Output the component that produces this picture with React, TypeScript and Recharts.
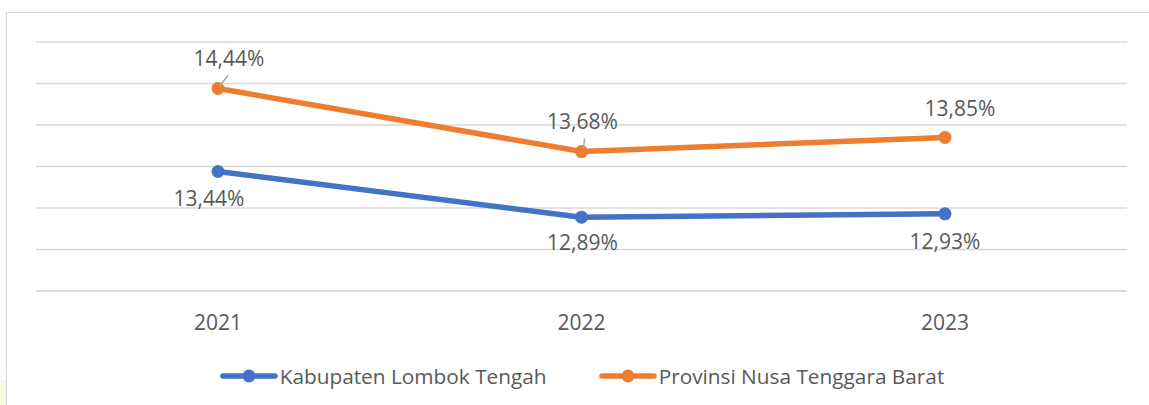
import React from 'react';
import { CartesianGrid, LabelList, Line, LineChart, XAxis, YAxis } from 'recharts';

const YEARS = ['2021', '2022', '2023'];
const LOMBOK_TENGAH = [13.44, 12.89, 12.93];
const NTB = [14.44, 13.68, 13.85];
const Y_TICKS = [12, 12.5, 13, 13.5, 14, 14.5, 15];

const SERIES = [
  { key: 'lombok', name: 'Kabupaten Lombok Tengah', color: '#4472C4' },
  { key: 'ntb', name: 'Provinsi Nusa Tenggara Barat', color: '#ED7D31' },
];

const data = YEARS.map((year, i) => ({ year, lombok: LOMBOK_TENGAH[i], ntb: NTB[i] }));

const FONT = '"Open Sans", sans-serif';
const TEXT = '#595959';

// label nudges (dx, dy of text centre from the point), leader line flag
const ABOVE = [
  { dx: 11, dy: -30, leader: true },
  { dx: 1, dy: -31, leader: true },
  { dx: 15, dy: -29, leader: false },
];
const BELOW = [
  { dx: -9, dy: 27 },
  { dx: 1, dy: 25 },
  { dx: 0, dy: 27 },
];

const fmt = (v: number) => `${v.toFixed(2).replace('.', ',')}%`;

function makeLabel(place: 'above' | 'below') {
  return (props: any) => {
    const { x, y, value, index } = props;
    const o = place === 'above' ? ABOVE[index] : BELOW[index];
    const cx = x + o.dx;
    const cy = y + o.dy;
    return (
      <g>
        {place === 'above' && (o as any).leader && (
          <line x1={x + 2} y1={y - 3} x2={x + (o.dx > 5 ? 10 : 3)} y2={y - 13} stroke="#a6a6a6" strokeWidth={1.5} />
        )}
        <text x={cx} y={cy} textAnchor="middle" dominantBaseline="central" fill={TEXT} fontSize={21} fontFamily={FONT}>
          {fmt(value)}
        </text>
      </g>
    );
  };
}

function ChartLegend() {
  return (
    <div
      style={{
        position: 'absolute',
        left: 0,
        top: 364,
        width: 1164,
        display: 'flex',
        justifyContent: 'center',
        gap: 52,
        fontFamily: FONT,
        fontSize: 20.8,
        color: TEXT,
        lineHeight: '24px',
      }}
    >
      {SERIES.map((s) => (
        <div key={s.key} style={{ display: 'flex', alignItems: 'center' }}>
          <svg width={58} height={16} style={{ marginRight: 2 }}>
            <line x1={3} y1={8} x2={55} y2={8} stroke={s.color} strokeWidth={5.5} strokeLinecap="round" />
            <circle cx={29} cy={8} r={6.5} fill={s.color} />
          </svg>
          <span>{s.name}</span>
        </div>
      ))}
    </div>
  );
}

export default function App() {
  return (
    <div style={{ position: 'absolute', left: 0, top: 0, width: 1149, height: 405, background: '#fff', overflow: 'hidden' }}>
      <div style={{ position: 'absolute', left: 0, top: 380, width: 6, height: 25, background: '#f3f8e0' }} />
      <div
        style={{
          position: 'absolute',
          left: 6,
          top: 12,
          width: 1160,
          height: 420,
          borderTop: '1.5px solid #d9d9d9',
          borderLeft: '1.5px solid #d9d9d9',
        }}
      />
      <div style={{ position: 'absolute', left: 0, top: 0 }}>
        <LineChart width={1149} height={405} data={data} margin={{ top: 42, right: 22, left: 36, bottom: 84 }}>
          <CartesianGrid vertical={false} stroke="#d9d9d9" strokeWidth={1.5} />
          <XAxis
            dataKey="year"
            padding={{ left: 182, right: 182 }}
            axisLine={{ stroke: '#d9d9d9', strokeWidth: 1.5 }}
            tickLine={false}
            tick={{ fill: TEXT, fontSize: 21, fontFamily: FONT }}
            tickMargin={18}
          />
          <YAxis hide domain={[12, 15]} ticks={Y_TICKS} />
          <Line
            dataKey="lombok"
            name={SERIES[0].name}
            stroke={SERIES[0].color}
            strokeWidth={5.5}
            dot={{ r: 6.5, fill: SERIES[0].color, stroke: SERIES[0].color, strokeWidth: 0 }}
            isAnimationActive={false}
          >
            <LabelList dataKey="lombok" content={makeLabel('below')} />
          </Line>
          <Line
            dataKey="ntb"
            name={SERIES[1].name}
            stroke={SERIES[1].color}
            strokeWidth={5.5}
            dot={{ r: 6.5, fill: SERIES[1].color, stroke: SERIES[1].color, strokeWidth: 0 }}
            isAnimationActive={false}
          >
            <LabelList dataKey="ntb" content={makeLabel('above')} />
          </Line>
        </LineChart>
      </div>
      <ChartLegend />
    </div>
  );
}
